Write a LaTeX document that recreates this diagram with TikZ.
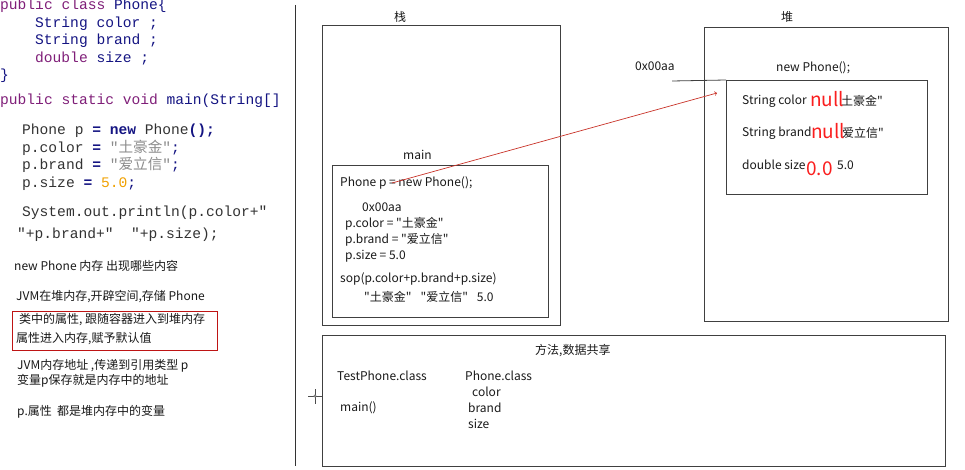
\documentclass[tikz,border=0pt]{standalone}
\usepackage{fontspec}
\setmainfont{Noto Sans CJK SC}[Ligatures=TeXOff]
\newfontfamily\codefont{Liberation Mono}[Ligatures=TeXOff]
\newfontfamily\cjk{Noto Sans CJK SC}[Ligatures=TeXOff]
\usetikzlibrary{positioning}

\definecolor{kwpur}{RGB}{127,30,120}
\definecolor{navy}{RGB}{20,20,130}
\definecolor{codegray}{RGB}{50,50,50}
\definecolor{strgray}{RGB}{140,140,140}
\definecolor{numorange}{RGB}{240,160,0}
\definecolor{boxred}{RGB}{190,20,20}
\definecolor{refred}{RGB}{200,50,40}
\definecolor{nullred}{RGB}{250,30,30}

\tikzset{
  memframe/.style={draw=black!75, line width=0.8pt, inner sep=0, anchor=north west},
  txt/.style={anchor=west, inner sep=0, text=black!90, font=\fontsize{12}{14}\selectfont},
  javaline/.style={anchor=base west, inner sep=0, text=codegray, font=\codefont\fontsize{14.6}{17}\selectfont},
  dflt/.style={anchor=west, inner sep=0, text=nullred, font=\fontsize{19}{20}\selectfont},
  refarrow/.style={->, draw=refred, line width=0.7pt}
}

\begin{document}
\begin{tikzpicture}[x=1pt,y=-1pt]
  \useasboundingbox (0,0) rectangle (965,470);
  % source code
  \node[javaline] (cls) at (0,10) {\color{kwpur}public class \color{navy}Phone\{};
  \node[javaline, text=navy] (fcolor) at (35,27.5) {String color ;};
  \node[javaline, text=navy] (fbrand) at (35,45) {String brand ;};
  \node[javaline, text=navy] (fsize) at (35,62.5) {\color{kwpur}double \color{navy}size ;};
  \node[javaline, text=navy] (clsend) at (0,80) {\}};
  \node[javaline] (mainsig) at (0,105) {\color{kwpur}public static void \color{navy}main(String[]};
  \node[javaline] (l1) at (22,135) {Phone p \textbf{\color{navy}=} \textbf{\color{navy}new} Phone\textbf{\color{navy}();}};
  \node[javaline] (l2) at (22,153) {p.color \textbf{\color{navy}=} \color{strgray}"{\cjk 土豪金}"\color{navy};};
  \node[javaline] (l3) at (22,170) {p.brand \textbf{\color{navy}=} \color{strgray}"{\cjk 爱立信}"\color{navy};};
  \node[javaline] (l4) at (22,188) {p.size \textbf{\color{navy}=} \color{numorange}5.0\color{navy};};
  \node[javaline] (l5) at (22,217) {System.out.println(p.color+"};
  \node[javaline] (l6) at (17,238) {"+p.brand+"~~"+p.size);};

  % notes
  \node[txt] (n1) at (14,266) {new Phone 内存 出现哪些内容};
  \node[txt] (n2) at (16,297) {JVM在堆内存,开辟空间,存储 Phone};
  \node[txt] (n3) at (19,320) {类中的属性, 跟随容器进入到堆内存};
  \node[txt] (n4) at (16,339) {属性进入内存,赋予默认值};
  \draw[boxred, line width=0.9pt] (12,311) rectangle (217,350);
  \node[txt] (n5) at (17,366) {JVM内存地址 ,传递到引用类型 p};
  \node[txt] (n6) at (17,381) {变量p保存就是内存中的地址};
  \node[txt] (n7) at (17,412) {p.属性\ \ 都是堆内存中的变量};

  \draw[black!80, line width=0.9pt] (295,5) -- (295,466);

  % stack
  \node[memframe, minimum width=238, minimum height=300] (stack) at (322,25) {};
  \node[txt] (stacklbl) at (394,17) {栈};
  \node[memframe, minimum width=216, minimum height=152] (mainframe) at (332,165) {};
  \node[txt] (mainlbl) at (403,155) {main};
  \node[txt] (s1) at (340,183) {Phone p = new Phone();};
  \node[txt] (s2) at (362,207) {0x00aa};
  \node[txt] (s3) at (345,224) {p.color = "土豪金"};
  \node[txt] (s4) at (345,240) {p.brand = "爱立信"};
  \node[txt] (s5) at (345,256) {p.size = 5.0};
  \node[txt] (s6) at (340,279) {sop(p.color+p.brand+p.size)};
  \node[txt] (s7) at (364,297) {"土豪金"\hspace{9pt}"爱立信"\hspace{9pt}5.0};

  % heap
  \node[memframe, minimum width=244, minimum height=294] (heap) at (704,27) {};
  \node[txt] (heaplbl) at (781,17) {堆};
  \node[txt] (newlbl) at (776,68) {new Phone();};
  \node[txt] (addrlbl) at (635,66) {0x00aa};
  \node[memframe, minimum width=201, minimum height=114] (obj) at (726,80) {};
  \coordinate (addr) at (672,81);
  \draw[black!75, line width=0.8pt] (addr) -- (obj.north west);
  \node[txt] (h1) at (742,101) {String color};
  \node[txt] (h1v) at (841,101) {土豪金"};
  \node[dflt] (h1d) at (810,99) {null};
  \node[txt] (h2) at (742,133) {String brand};
  \node[txt] (h2v) at (842,133) {爱立信"};
  \node[dflt] (h2d) at (811,131) {null};
  \node[txt] (h3) at (742,165) {double size};
  \node[txt] (h3v) at (837,165) {5.0};
  \node[dflt] (h3d) at (806,169) {0.0};

  % reference
  \coordinate (pref) at (392,183);
  \coordinate (objin) at (717,93);
  \draw[refarrow] (pref) -- (objin);

  % method area
  \node[memframe, minimum width=623, minimum height=131] (method) at (322,335) {};
  \node[txt] (methlbl) at (535,351) {方法,数据共享};
  \node[txt] (m1) at (337,376) {TestPhone.class};
  \node[txt] (m2) at (340,408) {main()};
  \node[txt] (m3) at (465,376) {Phone.class};
  \node[txt] (m4) at (472,392) {color};
  \node[txt] (m5) at (468,408) {brand};
  \node[txt] (m6) at (468,424) {size};

  % cursor
  \draw[black!70, line width=0.6pt] (308,396) -- (322,396) (315,389) -- (315,404);
  \fill[black!50] (315,396) circle (1.6);
\end{tikzpicture}
\end{document}
